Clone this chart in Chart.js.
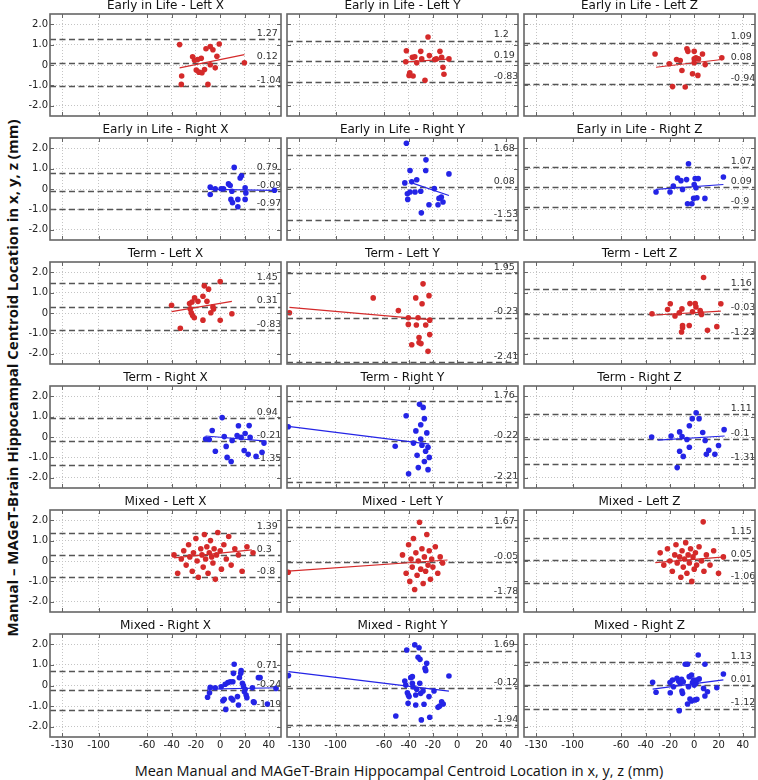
<!DOCTYPE html>
<html>
<head>
<meta charset="utf-8">
<script src="https://cdn.jsdelivr.net/npm/chart.js@4.4.0/dist/chart.umd.min.js"></script>
<style>
  body { margin: 0; background: #fff; }
  #wrap { position: relative; width: 758px; height: 780px; overflow: hidden; }
  .panel { position: absolute; }
  #ylab {
    position: absolute; left: -288px; top: 368px; width: 600px; height: 20px;
    line-height: 20px; text-align: center; transform: rotate(-90deg);
    font: bold 15px "Open Sans", sans-serif; color: #111; white-space: nowrap;
  }
  #xlab {
    position: absolute; left: 99px; top: 761px; width: 600px; height: 20px;
    line-height: 20px; text-align: center;
    font: 14.5px "Open Sans", sans-serif; color: #111; white-space: nowrap;
  }
</style>
</head>
<body>
<div id="wrap">
  <div id="ylab">Manual – MAGeT-Brain Hippocampal Centroid Location in x, y, z (mm)</div>
  <div id="xlab">Mean Manual and MAGeT-Brain Hippocampal Centroid Location in x, y, z (mm)</div>
</div>
<script>
// --- Data ---
const panelTitles = [
  'Early in Life - Left X', 'Early in Life - Left Y', 'Early in Life - Left Z',
  'Early in Life - Right X', 'Early in Life - Right Y', 'Early in Life - Right Z',
  'Term - Left X', 'Term - Left Y', 'Term - Left Z',
  'Term - Right X', 'Term - Right Y', 'Term - Right Z',
  'Mixed - Left X', 'Mixed - Left Y', 'Mixed - Left Z',
  'Mixed - Right X', 'Mixed - Right Y', 'Mixed - Right Z'
];

const xTickValues = [-130, -100, -60, -40, -20, 0, 20, 40];
const yTickValues = [-2, -1, 0, 1, 2];
const yTickLabels = ['-2.0', '-1.0', '0', '1.0', '2.0'];

// upper limit, mean difference, lower limit
const limitValues = [
  [1.27, 0.12, -1.04], [1.2, 0.19, -0.83], [1.09, 0.08, -0.94],
  [0.79, -0.09, -0.97], [1.68, 0.08, -1.53], [1.07, 0.09, -0.9],
  [1.45, 0.31, -0.83], [1.95, -0.23, -2.41], [1.16, -0.03, -1.23],
  [0.94, -0.21, -1.35], [1.76, -0.22, -2.21], [1.11, -0.1, -1.31],
  [1.39, 0.3, -0.8], [1.67, -0.05, -1.78], [1.15, 0.05, -1.06],
  [0.71, -0.24, -1.19], [1.69, -0.12, -1.94], [1.13, 0.01, -1.12]
];

// regression line: x start, y start, x end, y end
const fitLines = [
  [-33.4, -0.14, 19.9, 0.51], [-43.7, 0.14, -5.4, 0.30], [-31.4, -0.11, 22.7, 0.27],
  [-8.2, -0.02, 44.7, -0.07], [-37.4, 0.30, -6.8, -0.32], [-31.4, -0.02, 24.0, 0.22],
  [-40.0, 0.07, 9.6, 0.57], [-138.0, 0.28, -22.4, -0.32], [-35.5, -0.11, 21.9, 0.09],
  [-12.0, 0.05, 38.0, -0.2], [-139.0, 0.52, -23.0, -0.35], [-30.0, -0.15, 25.0, 0.05],
  [-38.0, 0.15, 26.0, 0.55], [-139.0, -0.5, -8.0, 0.05], [-32.0, -0.08, 25.0, 0.2],
  [-10.9, -0.18, 47.8, -0.11], [-138.8, 0.67, -6.8, -0.27], [-34.2, -0.18, 24.0, 0.27]
];

const earlyLeftX = [[-33.4,1.0],[-31.7,-0.54],[-32.0,-0.95],[-22.7,0.40],[-21.1,0.23],[-18.6,0.27],[-15.6,0.33],[-19.7,-0.25],[-17.5,-0.35],[-15.0,-0.38],[-12.9,-0.22],[-11.7,0.80],[-8.2,0.91],[-6.0,0.75],[-0.8,1.03],[-2.7,0.43],[-8.2,0.01],[-4.1,-0.14],[-10.1,-0.95],[19.9,0.11]];
const earlyLeftY = [[-41.8,0.70],[-42.3,0.16],[-36.9,0.38],[-34.9,0.40],[-39.0,-0.38],[-39.6,-0.51],[-36.3,-0.54],[-33.3,0.11],[-30.0,0.67],[-29.2,0.30],[-26.5,-0.75],[-24.0,1.37],[-22.9,0.46],[-18.5,0.27],[-17.2,0.30],[-14.2,0.67],[-12.8,0.38],[-11.7,-0.11],[-10.9,-0.45],[-6.8,0.30]];
const earlyLeftZ = [[-32.2,0.54],[-20.5,0.06],[-14.5,0.27],[-11.5,0.22],[-10.1,-0.27],[-17.8,-1.06],[-7.4,-1.08],[-6.0,0.80],[-5.2,0.67],[0,0.67],[-1.4,-0.43],[3.0,-0.51],[0,0.30],[1.4,0.35],[3.5,0.30],[0,0.11],[6.8,0.54],[9.0,0.02],[22.7,0.35]];
const earlyRightX = [[-8.2,0.09],[-8.2,-0.27],[-4.1,0.01],[0.8,0.01],[2.7,0.01],[6.8,0.25],[8.2,0.17],[9.6,-0.11],[11.5,1.06],[8.8,-0.51],[10.1,-0.67],[14.5,-0.51],[14.5,-0.87],[16.4,0.54],[17.5,0.65],[20.5,0.06],[21.1,-0.19],[20.5,-0.51],[44.7,-0.06]];
const earlyRightY = [[-41.8,2.24],[-43.1,0.30],[-38.8,0.91],[-41.0,-0.23],[-38.8,-0.15],[-40.7,-0.51],[-37.4,0.35],[-34.7,-0.15],[-33.3,0.45],[-30.0,-0.11],[-29.5,-1.17],[-25.7,1.43],[-25.9,0.91],[-23.2,-0.77],[-18.8,0.02],[-15.8,-0.77],[-15.0,-0.46],[-13.1,-0.40],[-11.7,-0.64],[-6.8,0.74]];
const earlyRightZ = [[-31.4,-0.15],[-19.9,-0.15],[-17.2,0.14],[-13.7,0.54],[-10.9,0.41],[-9.6,-0.02],[-6.3,0.46],[-4.7,1.24],[-5.5,-0.72],[-1.9,-0.72],[-0.5,-0.46],[0,0.22],[0.8,0.51],[3.3,0.51],[1.4,0.06],[2.2,-0.43],[8.8,-0.46],[24.0,0.59]];
const termLeftX = [[-40.0,0.38],[-32.8,-0.75],[-25.2,0.46],[-23.2,0.54],[-21.1,0.74],[-24.6,0.20],[-23.8,0.01],[-22.7,-0.12],[-21.3,-0.23],[-18.3,0.57],[-14.2,0.82],[-13.1,1.33],[-9.6,1.17],[-10.9,0.57],[-14.2,-0.35],[-7.7,0.01],[-6.0,0.30],[-5.5,0.20],[0,1.54],[0,-0.36],[9.6,-0.04]];
const termLeftY = [[-138,0.01],[-69.1,0.74],[-48.4,0.12],[-40.2,-0.23],[-40.2,-0.56],[-37.4,-1.56],[-34.1,0.74],[-33.6,-0.59],[-32.2,-0.23],[-31.4,-1.20],[-31.4,-1.45],[-29.8,-1.50],[-28.9,0.45],[-28.1,1.43],[-25.9,-0.59],[-24.0,-1.88],[-23.2,0.85],[-22.6,-0.35],[-22.6,-1.06]];
const termLeftZ = [[-34.7,-0.04],[-21.9,0.17],[-19.7,0.45],[-15.8,-0.15],[-12.3,0.01],[-10.1,0.20],[-9.6,-0.61],[-9.6,-0.72],[-10.4,-0.93],[-4.1,-0.61],[-3.5,0.46],[-1.4,0.06],[0.8,0.46],[1.4,0.30],[4.9,0.12],[5.5,0.01],[6.0,-0.07],[7.7,1.74],[10.9,-0.85],[18.6,-0.67],[21.9,0.45]];
const termRightX = [[1.6,0.95],[-6.6,0.32],[-9,-0.12],[-12,-0.1],[3.3,0.02],[4.9,-0.46],[9.8,-0.17],[13.9,0.07],[17.2,-0.02],[20.5,0.17],[24.6,-0.02],[5.7,-1.0],[9,-1.2],[19.7,-0.66],[23,-0.85],[29.5,-0.95],[34.4,-0.75],[23.8,0.56],[15,0.55],[36,-0.3],[-4,-0.7]];
const termRightY = [[-139,0.5],[-42,1.04],[-51,-0.45],[-36,-0.3],[-34,0.3],[-33,-0.9],[-32,-1.5],[-31,1.6],[-30,0.6],[-29,-0.4],[-28,1.45],[-27,-1.2],[-27,0.9],[-26,-0.7],[-25,0.2],[-24,-1.6],[-24,-0.5],[-23,-1.0],[-40,-1.8],[-30,-0.1]];
const termRightZ = [[-35,0.0],[-19,0.05],[-12,0.25],[-10,0.02],[-6,-0.12],[-4,0.55],[-1.6,0.9],[1.6,1.19],[4,0.9],[7,0.22],[9,-0.17],[10,-0.85],[12,-0.65],[17,-0.85],[20,-0.42],[24.6,0.36],[-12,-0.7],[-9,-0.95],[-14,-1.5],[-4,-0.5]];
const mixedLeftX = [[-38,0.3],[-35,-0.6],[-32,0.1],[-30,0.5],[-28,-0.2],[-26,0.8],[-25,0.2],[-23,-0.5],[-22,0.4],[-20,1.1],[-19,0.0],[-18,-0.8],[-16,0.6],[-15,0.3],[-14,-0.3],[-13,1.3],[-12,0.1],[-11,0.7],[-10,-0.6],[-9,0.4],[-8,1.0],[-7,0.2],[-6,-0.1],[-5,0.6],[-4,-0.9],[-3,0.3],[-2,1.4],[0,0.5],[1,-0.4],[3,0.8],[5,0.1],[7,1.2],[9,-0.2],[12,0.6],[15,0.3],[18,-0.5],[22,0.7],[27,0.4]];
const mixedLeftY = [[-139,-0.55],[-45,0.3],[-42,-0.6],[-40,0.8],[-39,-1.0],[-38,0.1],[-37,-0.3],[-36,1.1],[-35,-1.4],[-34,0.4],[-33,-0.7],[-32,0.0],[-31,1.9],[-30,-0.4],[-29,0.6],[-28,-1.1],[-27,0.2],[-26,-0.5],[-25,1.3],[-24,-0.2],[-23,0.5],[-22,-0.9],[-21,0.1],[-20,-0.3],[-18,0.7],[-16,-0.6],[-14,0.2],[-12,-0.1]];
const mixedLeftZ = [[-28,0.4],[-25,-0.2],[-22,0.6],[-20,0.0],[-18,-0.5],[-16,0.3],[-15,0.8],[-14,-0.1],[-12,0.2],[-11,-0.8],[-10,0.5],[-9,-0.3],[-8,0.1],[-7,0.9],[-6,-0.6],[-5,0.3],[-4,-0.1],[-3,0.6],[-2,-1.0],[-1,0.2],[0,-0.4],[1,0.4],[2,-0.2],[4,0.7],[7.4,1.92],[6,0.0],[8,-0.5],[10,0.3],[13,-0.2],[16,0.5],[20,-0.6],[24,0.2]];
const mixedRightX = [[-10.4,-0.57],[-8.8,-0.35],[-8.2,-0.09],[-4.1,-0.11],[0.8,-0.06],[2.2,-0.74],[3.3,-0.67],[4.6,-1.16],[4.1,0.06],[6.3,0.14],[8.2,0.18],[9.0,-0.62],[10.4,-0.70],[10.9,0.59],[11.5,1.03],[10.4,0.18],[14.2,-0.54],[15.0,-0.95],[15.8,0.38],[16.9,0.59],[17.2,0.72],[18.3,0.11],[19.1,-0.02],[19.9,-0.30],[21.3,-0.46],[21.9,-0.59],[20.5,-0.18],[26.5,-0.11],[27.3,-0.79],[31.4,0.38],[27.9,-0.82],[32.8,0.38],[38.8,-0.90],[45.9,-0.14]];
const mixedRightY = [[-138.8,0.48],[-50.5,-1.48],[-43.1,0.22],[-42.3,0.02],[-41.5,1.72],[-41.0,-0.35],[-40.4,-0.86],[-40.2,-0.46],[-39.6,-0.54],[-38.2,0.38],[-36.9,0.43],[-36.9,0.11],[-36.3,-0.06],[-34.9,1.97],[-34.1,-0.46],[-34.1,-0.95],[-33.3,-0.18],[-32.2,1.37],[-31.4,1.83],[-30.6,1.27],[-30.8,0.11],[-30.0,-0.38],[-29.5,-1.67],[-28.1,-0.27],[-27.3,-0.91],[-26.5,0.83],[-25.9,0.72],[-25.1,1.08],[-23.2,-0.54],[-22.6,-1.54],[-19.1,-0.27],[-15.8,-1.06],[-14.4,-1.00],[-12.8,-0.79],[-11.5,-0.90],[-6.8,0.46]];
const mixedRightZ = [[-34.2,0.16],[-31.4,-0.33],[-19.9,0.14],[-19.7,-0.35],[-17.8,0.27],[-17.0,-0.06],[-14.2,0.35],[-12.9,0.22],[-12.3,-1.22],[-11.5,0.11],[-10.4,0.30],[-10.1,-0.27],[-9.6,-0.38],[-9.0,0.18],[-7.4,1.03],[-5.5,1.03],[-5.5,-0.90],[-4.7,-0.06],[-4.1,0.43],[-3.5,-0.66],[-2.2,0.51],[-2.2,-0.75],[-1.4,0.14],[-0.5,0.27],[0,0.02],[0.8,-0.70],[1.4,0.11],[2.2,0.27],[3.3,1.48],[2.2,-0.67],[4.1,0.32],[7.7,-0.14],[8.8,1.03],[8.8,-0.51],[10.9,-0.30],[18.6,-0.11],[24.0,0.56]];

const panelPoints = [
  earlyLeftX, earlyLeftY, earlyLeftZ, earlyRightX, earlyRightY, earlyRightZ,
  termLeftX, termLeftY, termLeftZ, termRightX, termRightY, termRightZ,
  mixedLeftX, mixedLeftY, mixedLeftZ, mixedRightX, mixedRightY, mixedRightZ
];

// --- Layout ---
const plotLefts = [50, 287, 524];
const plotW = 232, plotH = 103;
const plotTop0 = 14, rowStep = 124;
const titleH = 14;
const limitLabelX = 30; // data x where the limit labels start

const RED = '#d42a2a', BLUE = '#2424e6';

// dashed limit lines, their labels, the frame and inward tick marks
const limitsPlugin = {
  id: 'limits',
  beforeDatasetsDraw(chart) {
    const { ctx, chartArea: a, scales: { x, y } } = chart;
    const vals = chart.options.plugins.limits.values;
    ctx.save();
    ctx.strokeStyle = '#555';
    ctx.lineWidth = 1.3;
    ctx.setLineDash([6, 3.5]);
    vals.forEach(v => {
      const py = Math.round(y.getPixelForValue(v)) + 0.5;
      ctx.beginPath();
      ctx.moveTo(a.left, py);
      ctx.lineTo(a.right, py);
      ctx.stroke();
    });
    ctx.setLineDash([]);
    ctx.fillStyle = '#333';
    ctx.font = '9.5px "DejaVu Sans"';
    ctx.textAlign = 'left';
    ctx.textBaseline = 'bottom';
    vals.forEach(v => {
      ctx.fillText(String(v), x.getPixelForValue(limitLabelX), y.getPixelForValue(v) - 1);
    });
    ctx.restore();
  },
  afterDraw(chart) {
    const { ctx, chartArea: a, scales: { x, y } } = chart;
    ctx.save();
    ctx.strokeStyle = '#666';
    ctx.lineWidth = 1;
    ctx.beginPath();
    x.ticks.forEach(t => {
      const px = Math.round(x.getPixelForValue(t.value)) + 0.5;
      ctx.moveTo(px, a.top); ctx.lineTo(px, a.top + 4);
      ctx.moveTo(px, a.bottom); ctx.lineTo(px, a.bottom - 4);
    });
    y.ticks.forEach(t => {
      const py = Math.round(y.getPixelForValue(t.value)) + 0.5;
      ctx.moveTo(a.left, py); ctx.lineTo(a.left + 4, py);
      ctx.moveTo(a.right, py); ctx.lineTo(a.right - 4, py);
    });
    ctx.stroke();
    ctx.lineWidth = 1.6;
    ctx.strokeRect(a.left, a.top, a.right - a.left, a.bottom - a.top);
    ctx.restore();
  }
};

// keep the axes from asking for extra room for their edge labels
const noPad = s => { s.paddingTop = 0; s.paddingBottom = 0; s.paddingLeft = 0; s.paddingRight = 0; };

const wrap = document.getElementById('wrap');

panelTitles.forEach((title, i) => {
  const r = Math.floor(i / 3), c = i % 3;
  const yW = c === 0 ? 50 : 4;
  const xH = r === 5 ? 18 : 3;
  const padR = 3;
  const canvas = document.createElement('canvas');
  canvas.className = 'panel';
  canvas.width = yW + plotW + padR;
  canvas.height = titleH + plotH + xH;
  canvas.style.left = (plotLefts[c] - yW) + 'px';
  canvas.style.top = (plotTop0 + r * rowStep - titleH) + 'px';
  wrap.appendChild(canvas);

  const color = title.includes('Left') ? RED : BLUE;
  const fit = fitLines[i];

  new Chart(canvas.getContext('2d'), {
    type: 'scatter',
    data: {
      datasets: [
        {
          data: panelPoints[i].map(p => ({ x: p[0], y: p[1] })),
          backgroundColor: color,
          borderWidth: 0,
          pointRadius: 2.8,
          order: 2
        },
        {
          data: [{ x: fit[0], y: fit[1] }, { x: fit[2], y: fit[3] }],
          showLine: true,
          borderColor: color,
          borderWidth: 1.2,
          pointRadius: 0,
          order: 1
        }
      ]
    },
    options: {
      responsive: false,
      animation: false,
      devicePixelRatio: 1,
      layout: { padding: { left: 0, right: padR, top: 0, bottom: 0 } },
      plugins: {
        legend: { display: false },
        tooltip: { enabled: false },
        title: {
          display: true,
          text: title,
          fullSize: false,
          color: '#111',
          font: { family: '"DejaVu Sans"', size: 12, weight: 'normal', lineHeight: '12px' },
          padding: { top: 0, bottom: 2 }
        },
        limits: { values: limitValues[i] }
      },
      scales: {
        x: {
          type: 'linear',
          min: -140,
          max: 50,
          afterBuildTicks: s => { s.ticks = xTickValues.map(v => ({ value: v })); },
          afterFit: s => { s.height = xH; noPad(s); },
          ticks: {
            display: r === 5,
            color: '#222',
            font: { family: '"DejaVu Sans"', size: 10 },
            padding: 2,
            maxRotation: 0,
            autoSkip: false
          },
          grid: { color: '#c4c4c4', lineWidth: 1, drawTicks: false },
          border: { display: false, dash: [1, 2] }
        },
        y: {
          type: 'linear',
          min: -2.5,
          max: 2.5,
          afterBuildTicks: s => { s.ticks = yTickValues.map(v => ({ value: v })); },
          afterFit: s => { s.width = yW; noPad(s); },
          ticks: {
            display: c === 0,
            color: '#222',
            font: { family: '"DejaVu Sans"', size: 10 },
            padding: 2,
            autoSkip: false,
            callback: v => yTickLabels[yTickValues.indexOf(v)]
          },
          grid: { color: '#c4c4c4', lineWidth: 1, drawTicks: false },
          border: { display: false, dash: [1, 2] }
        }
      }
    },
    plugins: [limitsPlugin]
  });
});
</script>
</body>
</html>
